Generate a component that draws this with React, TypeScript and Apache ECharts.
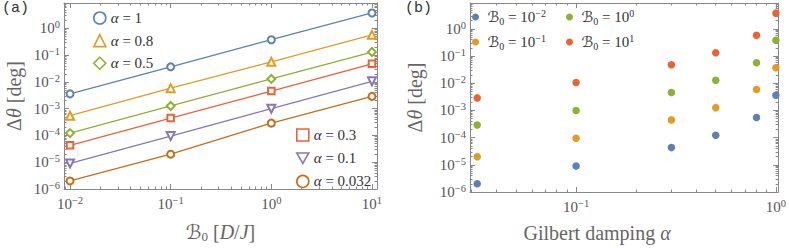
import React, { useEffect, useRef } from "react";
import * as echarts from "echarts";

// ---------- data ----------
const alphas = [1, 0.8, 0.5, 0.3, 0.1, 0.032];
const alphaLabels = ["1", "0.8", "0.5", "0.3", "0.1", "0.032"];
const b0Values = [0.01, 0.1, 1, 10];
const b0Exponents = [-2, -1, 0, 1];

// Δθ [deg] for each α (columns: ℬ0 = 1e-2, 1e-1, 1e0, 1e1)
const dThetaAlpha1 = [0.0036, 0.037, 0.38, 3.8];
const dThetaAlpha08 = [5.5e-4, 5.9e-3, 0.057, 0.58];
const dThetaAlpha05 = [1.23e-4, 1.27e-3, 0.013, 0.132];
const dThetaAlpha03 = [4.3e-5, 4.5e-4, 4.6e-3, 0.048];
const dThetaAlpha01 = [9.0e-6, 9.5e-5, 1.0e-3, 0.0106];
const dThetaAlpha0032 = [2.0e-6, 2.0e-5, 2.9e-4, 2.9e-3];
const dThetaRows = [dThetaAlpha1, dThetaAlpha08, dThetaAlpha05, dThetaAlpha03, dThetaAlpha01, dThetaAlpha0032];

// tick labels (exponents of 10)
const yTickExps = [-6, -5, -4, -3, -2, -1, 0];
const xTickExpsA = [-2, -1, 0, 1];
const xTickExpsB = [-1, 0];

// ---------- style ----------
const colorsA = ["#5E81B5", "#E19C24", "#8FB032", "#EB6235", "#8778B3", "#C56E1A"];
const colorsB = ["#5E81B5", "#E19C24", "#8FB032", "#EB6235"];
const symbolsA = ["emptyCircle", "emptyTriangle", "emptyDiamond", "emptyRect", "emptyTriangle", "emptyCircle"];
const symbolSizesA = [7, 8, 8, 6.5, 8, 7];
const legendIconsA = ["circle", "triangle", "diamond", "rect", "path://M0,0L12,0L6,10.4Z", "circle"];

const FONT = "'Liberation Serif', 'DejaVu Serif', 'DejaVu Sans', serif";
const FRAME = "#888888";
const LABEL = "#555555";

const xExtA = [-2.06, 1.05];
const xExtB = [-1.531, 0.0114];
const yExt = [-6.0, 0.953];

const supStr = (e: number) => (e < 0 ? "\u2212" + -e : String(e));
const tickLabel = (v: number) => `{b|10}{s|${supStr(Math.round(v))}}`;
const labelRich = {
  b: { fontSize: 15, lineHeight: 18, fontFamily: FONT, color: LABEL },
  s: { fontSize: 10.5, lineHeight: 11, verticalAlign: "top", fontFamily: FONT, color: LABEL },
};

function minorExps(lo: number, hi: number) {
  const out: number[] = [];
  for (let d = Math.floor(lo); d <= Math.ceil(hi); d++) {
    for (let k = 2; k <= 9; k++) {
      const v = d + Math.log10(k);
      if (v > lo && v < hi) out.push(v);
    }
  }
  return out;
}

function frameAxes(kind: "x" | "y", gridIndex: number, ext: number[], major: number[], extra: any) {
  const posA = kind === "x" ? "bottom" : "left";
  const posB = kind === "x" ? "top" : "right";
  const minor = minorExps(ext[0], ext[1]);
  const base: any = {
    type: "value",
    gridIndex,
    min: ext[0],
    max: ext[1],
    splitLine: { show: false },
    axisLabel: { show: false },
    axisTick: { show: false },
    axisLine: { show: false, onZero: false },
  };
  const lineOn = { show: true, onZero: false, lineStyle: { color: FRAME, width: 1 } };
  const majTick = { show: true, inside: true, length: 5, customValues: major, lineStyle: { color: FRAME, width: 1 } };
  const minTick = { show: true, inside: true, length: 2.5, customValues: minor, lineStyle: { color: FRAME, width: 1 } };
  return [
    {
      ...base,
      position: posA,
      axisLine: lineOn,
      axisTick: majTick,
      axisLabel: { show: true, customValues: major, formatter: tickLabel, rich: labelRich, margin: kind === "x" ? 6 : 4 },
      ...extra,
    },
    { ...base, position: posA, axisTick: minTick },
    { ...base, position: posB, axisLine: lineOn, axisTick: majTick },
    { ...base, position: posB, axisTick: minTick },
  ];
}

const yName = {
  name: "\u0394{i|\u03b8} [deg]",
  nameLocation: "middle",
  nameRotate: 90,
  nameTextStyle: {
    fontFamily: FONT,
    fontSize: 20,
    color: "#666",
    rich: { i: { fontFamily: FONT, fontSize: 20, fontStyle: "italic", color: "#666" } },
  },
};

const alphaNames = alphaLabels.map((l) => `\u03b1 = ${l}`);
const b0Names = b0Exponents.map((e) => `B0 = 10^${e}`);

const legendTextA = {
  fontFamily: FONT,
  fontSize: 15,
  color: "#333",
  lineHeight: 18,
  rich: { i: { fontFamily: FONT, fontSize: 15, fontStyle: "italic", color: "#333", lineHeight: 18 } },
};
const legendTextB = {
  fontFamily: FONT,
  fontSize: 15,
  color: "#333",
  lineHeight: 18,
  rich: {
    s: { fontFamily: FONT, fontSize: 15, color: "#333", lineHeight: 18 },
    sub: { fontFamily: FONT, fontSize: 10, color: "#333", lineHeight: 10, verticalAlign: "bottom" },
    sup: { fontFamily: FONT, fontSize: 10, color: "#333", lineHeight: 10, verticalAlign: "top" },
  },
};

const legendA = (idx: number[], left: number, top: number, gap: number) => ({
  orient: "vertical",
  left,
  top,
  padding: 0,
  itemWidth: 12,
  itemHeight: 12,
  itemGap: gap,
  selectedMode: false,
  textStyle: legendTextA,
  formatter: (name: string) => name.replace("\u03b1", "{i|\u03b1}"),
  data: idx.map((i) => ({
    name: alphaNames[i],
    icon: legendIconsA[i],
    itemStyle: { color: "#ffffff", borderColor: colorsA[i], borderWidth: 1.6 },
  })),
});

const legendB = (idx: number[], left: number, top: number) => ({
  orient: "vertical",
  left,
  top,
  padding: 0,
  itemWidth: 14,
  itemHeight: 7,
  itemGap: 7,
  selectedMode: false,
  textStyle: legendTextB,
  formatter: (name: string) => {
    const e = b0Exponents[b0Names.indexOf(name)];
    return `{s|\u212c}{sub|0} = 10{sup|${supStr(e)}}`;
  },
  data: idx.map((i) => ({ name: b0Names[i], icon: "circle", itemStyle: { color: colorsB[i] } })),
});

const option: any = {
  animation: false,
  title: [
    { text: "(a)", left: 2, top: 1, padding: 0, textStyle: { fontFamily: "'Liberation Mono', monospace", fontSize: 15, fontWeight: "normal", color: "#333" } },
    { text: "(b)", left: 405, top: 1, padding: 0, textStyle: { fontFamily: "'Liberation Mono', monospace", fontSize: 15, fontWeight: "normal", color: "#333" } },
  ],
  grid: [
    { left: 64, top: 3, width: 313, height: 192 },
    { left: 470, top: 3, width: 310, height: 192 },
  ],
  legend: [
    legendA([0, 1, 2], 93, 9, 4.6),
    legendA([3, 4, 5], 296, 126, 5.2),
    legendB([0, 1], 472, 8),
    legendB([2, 3], 566, 8),
  ],
  xAxis: [
    { type: "log", gridIndex: 0, min: Math.pow(10, xExtA[0]), max: Math.pow(10, xExtA[1]), show: false },
    ...frameAxes("x", 0, xExtA, xTickExpsA, {
      name: "{s|\u212c}{sub|0} [{i|D}/{i|J}]",
      nameLocation: "middle",
      nameGap: 32,
      nameTextStyle: {
        fontFamily: FONT,
        fontSize: 20,
        color: "#666",
        rich: {
          s: { fontFamily: FONT, fontSize: 20, color: "#666", lineHeight: 22 },
          sub: { fontFamily: FONT, fontSize: 13, color: "#666", lineHeight: 13, verticalAlign: "bottom" },
          i: { fontFamily: FONT, fontSize: 20, fontStyle: "italic", color: "#666", lineHeight: 22 },
        },
      },
    }),
    { type: "log", gridIndex: 1, min: Math.pow(10, xExtB[0]), max: Math.pow(10, xExtB[1]), show: false },
    ...frameAxes("x", 1, xExtB, xTickExpsB, {
      name: "Gilbert damping {i|\u03b1}",
      nameLocation: "middle",
      nameGap: 31,
      nameTextStyle: {
        fontFamily: FONT,
        fontSize: 20,
        color: "#666",
        padding: [0, 54, 0, 0],
        rich: { i: { fontFamily: FONT, fontSize: 20, fontStyle: "italic", color: "#666" } },
      },
    }),
  ],
  yAxis: [
    { type: "log", gridIndex: 0, min: Math.pow(10, yExt[0]), max: Math.pow(10, yExt[1]), show: false },
    ...frameAxes("y", 0, yExt, yTickExps, { ...yName, nameGap: 40 }),
    { type: "log", gridIndex: 1, min: Math.pow(10, yExt[0]), max: Math.pow(10, yExt[1]), show: false },
    ...frameAxes("y", 1, yExt, yTickExps, { ...yName, nameGap: 45 }),
  ],
  series: [
    ...alphas.map((a, i) => ({
      type: "line",
      name: alphaNames[i],
      xAxisIndex: 0,
      yAxisIndex: 0,
      data: b0Values.map((b, j) => [b, dThetaRows[i][j]]),
      symbol: symbolsA[i],
      symbolSize: symbolSizesA[i],
      symbolRotate: i === 4 ? 180 : 0,
      lineStyle: { color: colorsA[i], width: 1.3 },
      itemStyle: { color: colorsA[i], borderColor: colorsA[i], borderWidth: 1.3 },
      z: 3,
    })),
    ...b0Values.map((b, j) => ({
      type: "scatter",
      name: b0Names[j],
      xAxisIndex: 5,
      yAxisIndex: 5,
      data: alphas.map((a, i) => [a, dThetaRows[i][j]]),
      symbol: "circle",
      symbolSize: 7.5,
      itemStyle: { color: colorsB[j], opacity: 1 },
      z: 3,
    })),
  ],
};

export default function App() {
  const ref = useRef<HTMLDivElement>(null);
  useEffect(() => {
    const chart = echarts.init(ref.current!, null, { renderer: "svg" });
    chart.setOption(option);
    return () => chart.dispose();
  }, []);
  return <div ref={ref} style={{ position: "absolute", left: 0, top: 0, width: 789, height: 248 }} />;
}
